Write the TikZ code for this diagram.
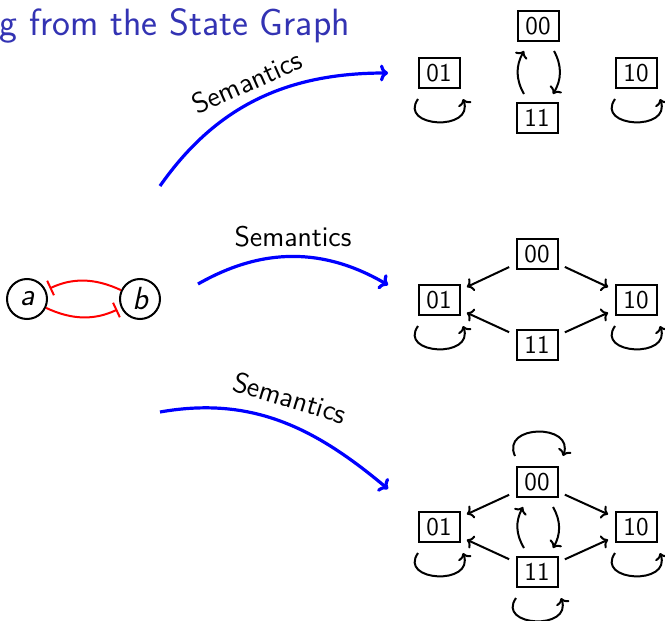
\documentclass[tikz,border=0pt]{standalone}
\usetikzlibrary{arrows.meta,calc}
\definecolor{titleblue}{RGB}{51,51,179}
\newcommand\myloopb[1]{\draw[arr] ($(#1.center)+(-21,-26)$) to[out=-125,in=-70,out distance=17.5pt,in distance=17.5pt] ($(#1.center)+(24,-26)$);}
\newcommand\myloopt[1]{\draw[arr] ($(#1.center)+(-22,26)$) to[out=115,in=70,out distance=17.5pt,in distance=17.5pt] ($(#1.center)+(26,26)$);}
\newcommand\myarcs[2]{%
  \draw[arr] ($(#2.center)+(-13,24)$) to[bend left=30] ($(#1.center)+(-14,-25)$);
  \draw[arr] ($(#1.center)+(16,-25)$) to[bend left=30] ($(#2.center)+(16,24)$);}
\begin{document}
\begin{tikzpicture}[x=0.5pt,y=0.5pt,
  st/.style={draw, line width=1pt, minimum width=20.5pt, minimum height=14.8pt, inner sep=0pt, font=\sffamily\fontsize{12.8}{15}\selectfont},
  var/.style={draw, circle, line width=1pt, minimum size=20pt, inner sep=0pt, font=\sffamily\itshape\fontsize{16}{18}\selectfont},
  arr/.style={line width=1pt, -{To[length=3.2pt,width=7pt]}},
  sarr/.style={arr, shorten <=3.5pt, shorten >=3.5pt},
  sem/.style={line width=1.6pt, blue, -{To[length=4pt,width=8.5pt]}},
  inh/.style={red, line width=1pt, -{Bar[width=8pt]}},
  lbl/.style={font=\sffamily\fontsize{14.2}{16}\selectfont, inner sep=0pt},
]
\path[use as bounding box] (0,0) rectangle (665,-621);

% title
\node[anchor=base west, text=titleblue, font=\sffamily\fontsize{19}{22}\selectfont, inner sep=0pt] (title) at (-1,-35) {g from the State Graph};

% regulatory graph
\node[var] (a) at (27,-299) {a};
\node[var] (b) at (140,-299) {b};
\draw[inh, shorten >=2pt] (b) to[bend right=25] (a);
\draw[inh, shorten >=2pt] (a) to[bend right=25] (b);

% semantics arrows
\coordinate (p1s) at (160,-186); \coordinate (p1e) at (388,-73);
\coordinate (p2s) at (198,-284); \coordinate (p2e) at (388,-285);
\coordinate (p3s) at (160,-412); \coordinate (p3e) at (388,-489);
\draw[sem] (p1s) to[out=55,in=180] (p1e);
\draw[sem] (p2s) to[bend left=30] (p2e);
\draw[sem] (p3s) to[out=10,in=140] (p3e);
\node[lbl, rotate=24] (s1) at (247,-82) {Semantics};
\node[lbl] (s2) at (293,-237) {Semantics};
\node[lbl, rotate=-17] (s3) at (290,-398) {Semantics};

% graph 1
\node[st] (A00) at (538,-26) {00};
\node[st] (A01) at (439,-73) {01};
\node[st] (A10) at (636,-73) {10};
\node[st] (A11) at (537,-118) {11};
\myarcs{A00}{A11}
\myloopb{A01}
\myloopb{A10}

% graph 2
\node[st] (B00) at (537,-254) {00};
\node[st] (B01) at (439,-300) {01};
\node[st] (B10) at (636,-300) {10};
\node[st] (B11) at (537,-345) {11};
\draw[sarr] (B00) -- (B01);
\draw[sarr] (B00) -- (B10);
\draw[sarr] (B11) -- (B01);
\draw[sarr] (B11) -- (B10);
\myloopb{B01}
\myloopb{B10}

% graph 3
\node[st] (C00) at (537,-482) {00};
\node[st] (C01) at (439,-527) {01};
\node[st] (C10) at (636,-527) {10};
\node[st] (C11) at (537,-572) {11};
\draw[sarr] (C00) -- (C01);
\draw[sarr] (C00) -- (C10);
\draw[sarr] (C11) -- (C01);
\draw[sarr] (C11) -- (C10);
\myarcs{C00}{C11}
\myloopt{C00}
\myloopb{C01}
\myloopb{C10}
\myloopb{C11}
\end{tikzpicture}
\end{document}
